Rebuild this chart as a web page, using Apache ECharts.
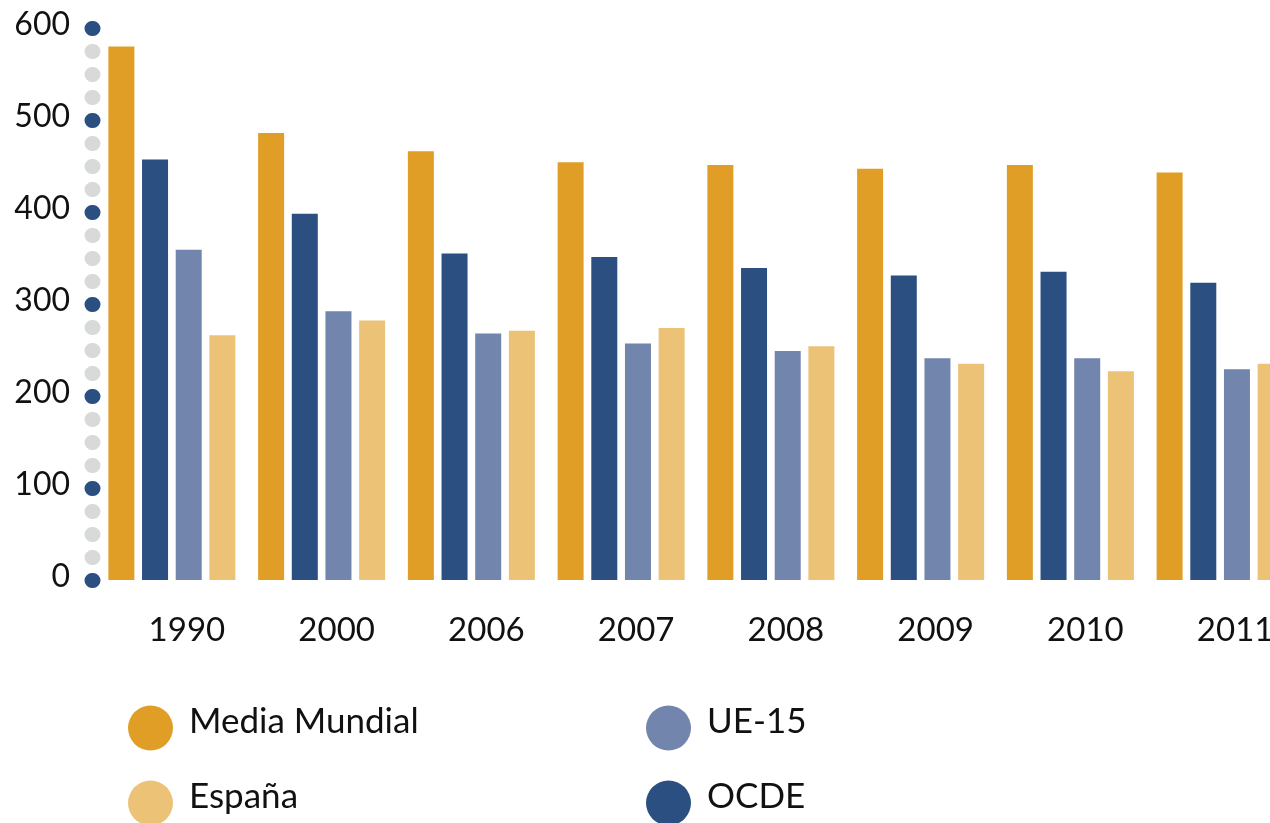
<!DOCTYPE html>
<html>
<head>
<meta charset="utf-8">
<script src="https://cdn.jsdelivr.net/npm/echarts@6/dist/echarts.min.js"></script>
<style>
html,body{margin:0;padding:0;background:#fff;}
#chart{width:1270px;height:823px;}
</style>
</head>
<body>
<div id="chart"></div>
<script>
const categories = ['1990','2000','2006','2007','2008','2009','2010','2011'];
const mediaMundial = [580, 486, 466, 454, 451, 447, 451, 443];
const ocde        = [457, 398, 355, 351, 339, 331, 335, 323];
const ue15        = [359, 292, 268, 257, 249, 241, 241, 229];
const espana      = [266, 282, 271, 274, 254, 235, 227, 235];
const yTicks = { min: 0, max: 600, interval: 100 };
const legendNames = ['Media Mundial','UE-15','España','OCDE'];

const FONT = 'Lato';
const C_ORANGE = '#E09E27', C_DARK = '#2A4F80', C_UE = '#7285AC', C_ESP = '#ECC277';

const chart = echarts.init(document.getElementById('chart'), null, {renderer:'canvas'});
const barW = 26;
function bar(name, data, color){
  return {name, type:'bar', data, barWidth: barW, barGap:'29.5%',
    itemStyle:{color}, emphasis:{disabled:true}};
}
const legendText = {fontFamily: FONT, fontSize: 35, color:'#111',
  rich:{t:{fontFamily: FONT, fontSize: 35, color:'#111', lineHeight:48, verticalAlign:'top', padding:[0,0,0,11]}}};
const legendPos = [[128,704],[646,704],[128,779],[646,779]];
const legends = legendNames.map((n,i)=>({
  data:[n], left:legendPos[i][0], top:legendPos[i][1], itemWidth:45, itemHeight:45,
  icon:'circle', textStyle:legendText, formatter:'{t|{name}}', selectedMode:false, padding:0
}));
chart.setOption({
  animation:false,
  backgroundColor:'#fff',
  grid:{left:97, top:28, width:1198, bottom:243, containLabel:false, outerBoundsMode:'none'},
  xAxis:{type:'category', data: categories,
    axisLine:{show:false}, axisTick:{show:false},
    axisLabel:{fontFamily:FONT, fontSize:33, color:'#111', margin:34, padding:[0,0,0,30]}},
  yAxis:{type:'value', min:yTicks.min, max:yTicks.max, interval:yTicks.interval, offset:4,
    axisLine:{show:false}, splitLine:{show:false},
    axisTick:{show:true, length:1, lineStyle:{color:C_DARK, width:15, cap:'round'}},
    minorTick:{show:true, splitNumber:4, length:1, lineStyle:{color:'#D8D9D9', width:15, cap:'round'}},
    axisLabel:{fontFamily:FONT, fontSize:32, color:'#111', margin:23, formatter:'{v|{value}}',
      rich:{v:{fontFamily:FONT, fontSize:32, color:'#111', lineHeight:39, verticalAlign:'top'}}}},
  legend: legends,
  series:[
    bar('Media Mundial', mediaMundial, C_ORANGE),
    bar('OCDE', ocde, C_DARK),
    bar('UE-15', ue15, C_UE),
    bar('España', espana, C_ESP)
  ]
});
</script>
</body>
</html>
